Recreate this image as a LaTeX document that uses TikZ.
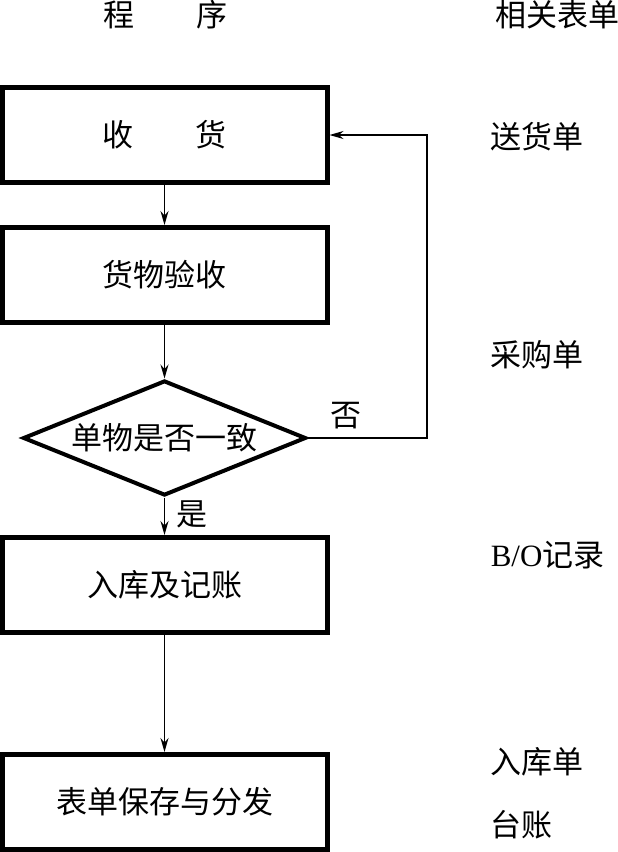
\documentclass[tikz,border=0pt]{standalone}
\usepackage{fontspec}
\setmainfont{Noto Sans CJK SC}
\newfontfamily\latinfont{Liberation Serif}
\usetikzlibrary{positioning}
\usetikzlibrary{shapes.geometric}
\usetikzlibrary{arrows.meta}

\begin{document}
\begin{tikzpicture}[>={Stealth[length=7pt,width=4pt]}, line width=0.75pt, node distance=70pt, txt/.style={font=\fontsize{15.5}{18}\selectfont, inner sep=0pt}, proc/.style={rectangle, draw, line width=2.5pt, minimum width=162.5pt, minimum height=47.5pt, txt}, check/.style={diamond, draw, line width=2pt, minimum width=141.5pt, minimum height=57.5pt, aspect=2.4, txt}, form/.style={anchor=west, txt}]
	\useasboundingbox (0,0) rectangle (308.5pt,-426pt);
	% headers
	\node[txt] (prog) at (82.5pt,-7.5pt) {程\hspace{2em}序};
	\node[form] (forms) at (247.5pt,-7.5pt) {相关表单};

	% steps
	\node[proc] (recv) at (82.25pt,-67.5pt) {收\hspace{2em}货}; %
	\node[proc, below of=recv] (inspect) {货物验收}; %
	\node[check, below of=inspect, yshift=-11.5pt] (match) {单物是否一致}; %
	\node[proc, below of=match, yshift=-3.5pt] (store) {入库及记账}; %
	\node[proc, below of=store, yshift=-38.5pt] (issue) {表单保存与分发}; %

	% forms
	\node[form] (deliv) at (245pt,-68.5pt) {送货单};
	\node[form] (order) at (245pt,-177.5pt) {采购单};
	\node[form] (record) at (245pt,-277.5pt) {{\latinfont B/O}记录};
	\node[form] (entry) at (245pt,-381pt) {入库单};
	\node[form] (ledger) at (245pt,-412.5pt) {台账};

	% labels
	\node[txt] (no) at (173pt,-208pt) {否};
	\node[txt] (yes) at (96pt,-257pt) {是};

	% edges
	\coordinate[right=59.5pt of match.east] (turn);
	\draw [->] (recv) -- (inspect);
	\draw [->] (inspect) -- (match);
	\draw [->] (match) -- (store);
	\draw [->] (store) -- (issue);
	\draw [->] (match.east) -- (turn) |- (recv.east);
\end{tikzpicture}
\end{document}
